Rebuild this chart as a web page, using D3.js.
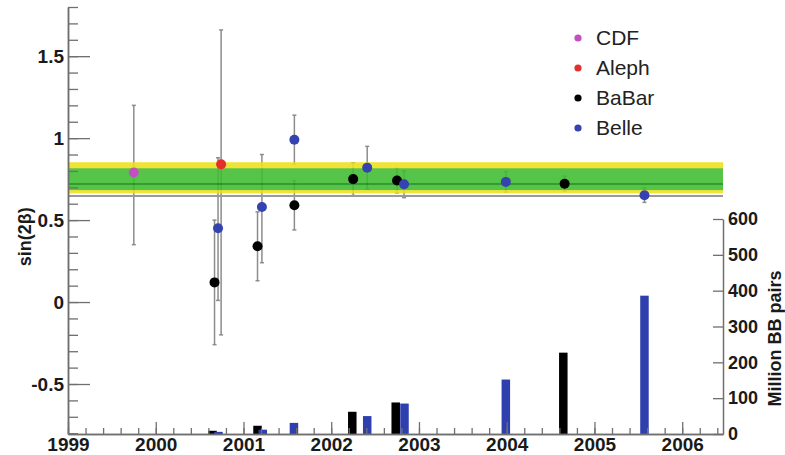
<!DOCTYPE html>
<html>
<head>
<meta charset="utf-8">
<script src="https://cdn.jsdelivr.net/npm/d3@7"></script>
<style>
  html, body { margin: 0; padding: 0; background: #fff; }
  svg { display: block; font-family: "Liberation Sans", Arial, Helvetica, sans-serif; }
</style>
</head>
<body>
<svg id="chart" width="785" height="455"></svg>
<script>
// ---------- data ----------
const yearTicks = [1999, 2000, 2001, 2002, 2003, 2004, 2005, 2006];
const sinTicks = [-0.5, 0, 0.5, 1, 1.5];
const sinTickLabels = ["-0.5", "0", "0.5", "1", "1.5"];
const bbTicks = [0, 100, 200, 300, 400, 500, 600];

const experiments = ["CDF", "Aleph", "BaBar", "Belle"];
const expColors = ["#c24fc0", "#e2302b", "#000000", "#3443b0"];

// measurements: year, value, +err, -err
const cdfYears = [1999.75];
const cdfVals = [0.79];
const cdfUp = [0.41];
const cdfDn = [0.44];

const alephYears = [2000.745];
const alephVals = [0.84];
const alephUp = [0.82];
const alephDn = [1.04];

const babarYears = [2000.67, 2001.16, 2001.58, 2002.25, 2002.75, 2004.66];
const babarVals = [0.12, 0.34, 0.59, 0.75, 0.741, 0.722];
const babarUp = [0.38, 0.21, 0.15, 0.10, 0.075, 0.046];
const babarDn = [0.38, 0.21, 0.15, 0.10, 0.075, 0.046];

const belleYears = [2000.71, 2001.21, 2001.58, 2002.41, 2002.83, 2003.99, 2005.57];
const belleVals = [0.45, 0.58, 0.99, 0.82, 0.719, 0.733, 0.652];
const belleUp = [0.43, 0.32, 0.15, 0.13, 0.082, 0.063, 0.044];
const belleDn = [0.44, 0.34, 0.15, 0.13, 0.082, 0.063, 0.044];

// luminosity bars (million BB pairs)
const babarBarYears = [2000.647, 2001.16, 2002.24, 2002.735, 2004.645];
const babarBarVals = [9, 23, 62, 88, 227];
const belleBarYears = [2000.715, 2001.22, 2001.575, 2002.41, 2002.835, 2003.99, 2005.57];
const belleBarVals = [6, 12, 31, 50, 85, 152, 386];

// world average band
const band2 = [0.663, 0.853];
const band1 = [0.683, 0.816];
const bandCentral = 0.72;
const lowerFrame = 0.647;

// ---------- layout ----------
const svg = d3.select("#chart");
const x = d3.scaleLinear().domain([1999, 2006.465]).range([68, 723]);
const y = d3.scaleLinear().domain([-0.805, 1.8]).range([434, 7]);
const yR = d3.scaleLinear().domain([0, 600]).range([434, 219]);

const axisColor = "#6f6f6f";
const textColor = "#1a1a1a";

// ---------- bars ----------
const barW = 8.5;
const bars = svg.append("g");
function drawBars(years, vals, color) {
  bars.selectAll(null).data(years.map((d, i) => ({ yr: d, v: vals[i] }))).enter()
    .append("rect")
    .attr("x", d => x(d.yr) - barW / 2)
    .attr("width", barW)
    .attr("y", d => yR(d.v))
    .attr("height", d => yR(0) - yR(d.v))
    .attr("fill", color);
}
drawBars(babarBarYears, babarBarVals, "#000000");
drawBars(belleBarYears, belleBarVals, "#2f3fae");

// ---------- error bars ----------
const allPts = [];
function collect(years, vals, up, dn, color) {
  years.forEach((yr, i) => allPts.push({ yr, v: vals[i], up: up[i], dn: dn[i], color }));
}
collect(cdfYears, cdfVals, cdfUp, cdfDn, expColors[0]);
collect(alephYears, alephVals, alephUp, alephDn, expColors[1]);
collect(babarYears, babarVals, babarUp, babarDn, expColors[2]);
collect(belleYears, belleVals, belleUp, belleDn, expColors[3]);

const eb = svg.append("g").attr("stroke", "#8c8c8c").attr("stroke-width", 1.5);
allPts.forEach(p => {
  const cx = x(p.yr);
  eb.append("line").attr("x1", cx).attr("x2", cx).attr("y1", y(p.v + p.up)).attr("y2", y(p.v - p.dn));
  eb.append("line").attr("x1", cx - 2).attr("x2", cx + 2).attr("y1", y(p.v + p.up)).attr("y2", y(p.v + p.up));
  eb.append("line").attr("x1", cx - 2).attr("x2", cx + 2).attr("y1", y(p.v - p.dn)).attr("y2", y(p.v - p.dn));
});

// ---------- band ----------
const bandG = svg.append("g").attr("opacity", 0.88);
bandG.append("rect").attr("x", x(1999)).attr("width", x(2006.465) - x(1999))
  .attr("y", y(band2[1])).attr("height", y(band2[0]) - y(band2[1])).attr("fill", "#efe01c");
bandG.append("rect").attr("x", x(1999)).attr("width", x(2006.465) - x(1999))
  .attr("y", y(band1[1])).attr("height", y(band1[0]) - y(band1[1])).attr("fill", "#3fbb30");
bandG.append("line").attr("x1", x(1999)).attr("x2", x(2006.465))
  .attr("y1", y(bandCentral)).attr("y2", y(bandCentral)).attr("stroke", "#168f16").attr("stroke-width", 2);
svg.append("line").attr("x1", x(1999)).attr("x2", x(2006.465))
  .attr("y1", y(lowerFrame)).attr("y2", y(lowerFrame)).attr("stroke", "#9a9a9a").attr("stroke-width", 2);

// ---------- points ----------
svg.append("g").selectAll("circle").data(allPts).enter().append("circle")
  .attr("cx", d => x(d.yr)).attr("cy", d => y(d.v)).attr("r", 5).attr("fill", d => d.color);

// ---------- axes ----------
function styleAxis(g, size, weight) {
  g.selectAll("path.domain").attr("stroke", axisColor).attr("stroke-width", 1.5);
  g.selectAll(".tick line").attr("stroke", axisColor).attr("stroke-width", 1.3);
  g.selectAll("text").attr("fill", textColor).style("font-size", size + "px").style("font-weight", weight);
}

// left minor
const gLm = svg.append("g").attr("transform", `translate(${x(1999)},0)`)
  .call(d3.axisLeft(y).tickValues(d3.range(-8, 19).map(v => v / 10)).tickSizeInner(-10).tickSizeOuter(0).tickFormat(""));
styleAxis(gLm, 19, "bold");
// left major
const gL = svg.append("g").attr("transform", `translate(${x(1999)},0)`)
  .call(d3.axisLeft(y).tickValues(sinTicks).tickSizeInner(-22).tickSizeOuter(0).tickPadding(4)
    .tickFormat((d, i) => sinTickLabels[i]));
styleAxis(gL, 19, "bold");

// bottom minor
const gBm = svg.append("g").attr("transform", `translate(0,${y(-0.805)})`)
  .call(d3.axisBottom(x).tickValues(d3.range(0, 38).map(i => 1999 + i * 0.2)).tickSizeInner(-6).tickSizeOuter(0).tickFormat(""));
styleAxis(gBm, 19, "bold");
// bottom major
const gB = svg.append("g").attr("transform", `translate(0,${y(-0.805)})`)
  .call(d3.axisBottom(x).tickValues(yearTicks).tickSizeInner(-12).tickSizeOuter(0).tickPadding(4).tickFormat(d3.format("d")));
styleAxis(gB, 19, "bold");

// right axis
const gR = svg.append("g").attr("transform", `translate(${x(2006.465)},0)`)
  .call(d3.axisRight(yR).tickValues(bbTicks).tickSizeInner(-10).tickSizeOuter(0).tickPadding(5).tickFormat(d3.format("d")));
styleAxis(gR, 18, "bold");

// axis titles
svg.append("text").attr("transform", `translate(31,${(y(0.72) + y(0.2)) / 2 + 10}) rotate(-90)`)
  .attr("text-anchor", "middle").attr("fill", textColor)
  .style("font-size", "18px").style("font-weight", "bold").text("sin(2β)");
svg.append("text").attr("transform", `translate(781,${(yR(0) + yR(600)) / 2 + 12}) rotate(-90)`)
  .attr("text-anchor", "middle").attr("fill", textColor)
  .style("font-size", "18px").style("font-weight", "bold").text("Million BB pairs");

// ---------- legend ----------
const leg = svg.append("g");
experiments.forEach((name, i) => {
  const ly = 38 + i * 30;
  leg.append("circle").attr("cx", 578).attr("cy", ly).attr("r", 3.6).attr("fill", expColors[i]);
  leg.append("text").attr("x", 596).attr("y", ly + 7).attr("fill", "#222")
    .style("font-size", "21px").text(name);
});
</script>
</body>
</html>
